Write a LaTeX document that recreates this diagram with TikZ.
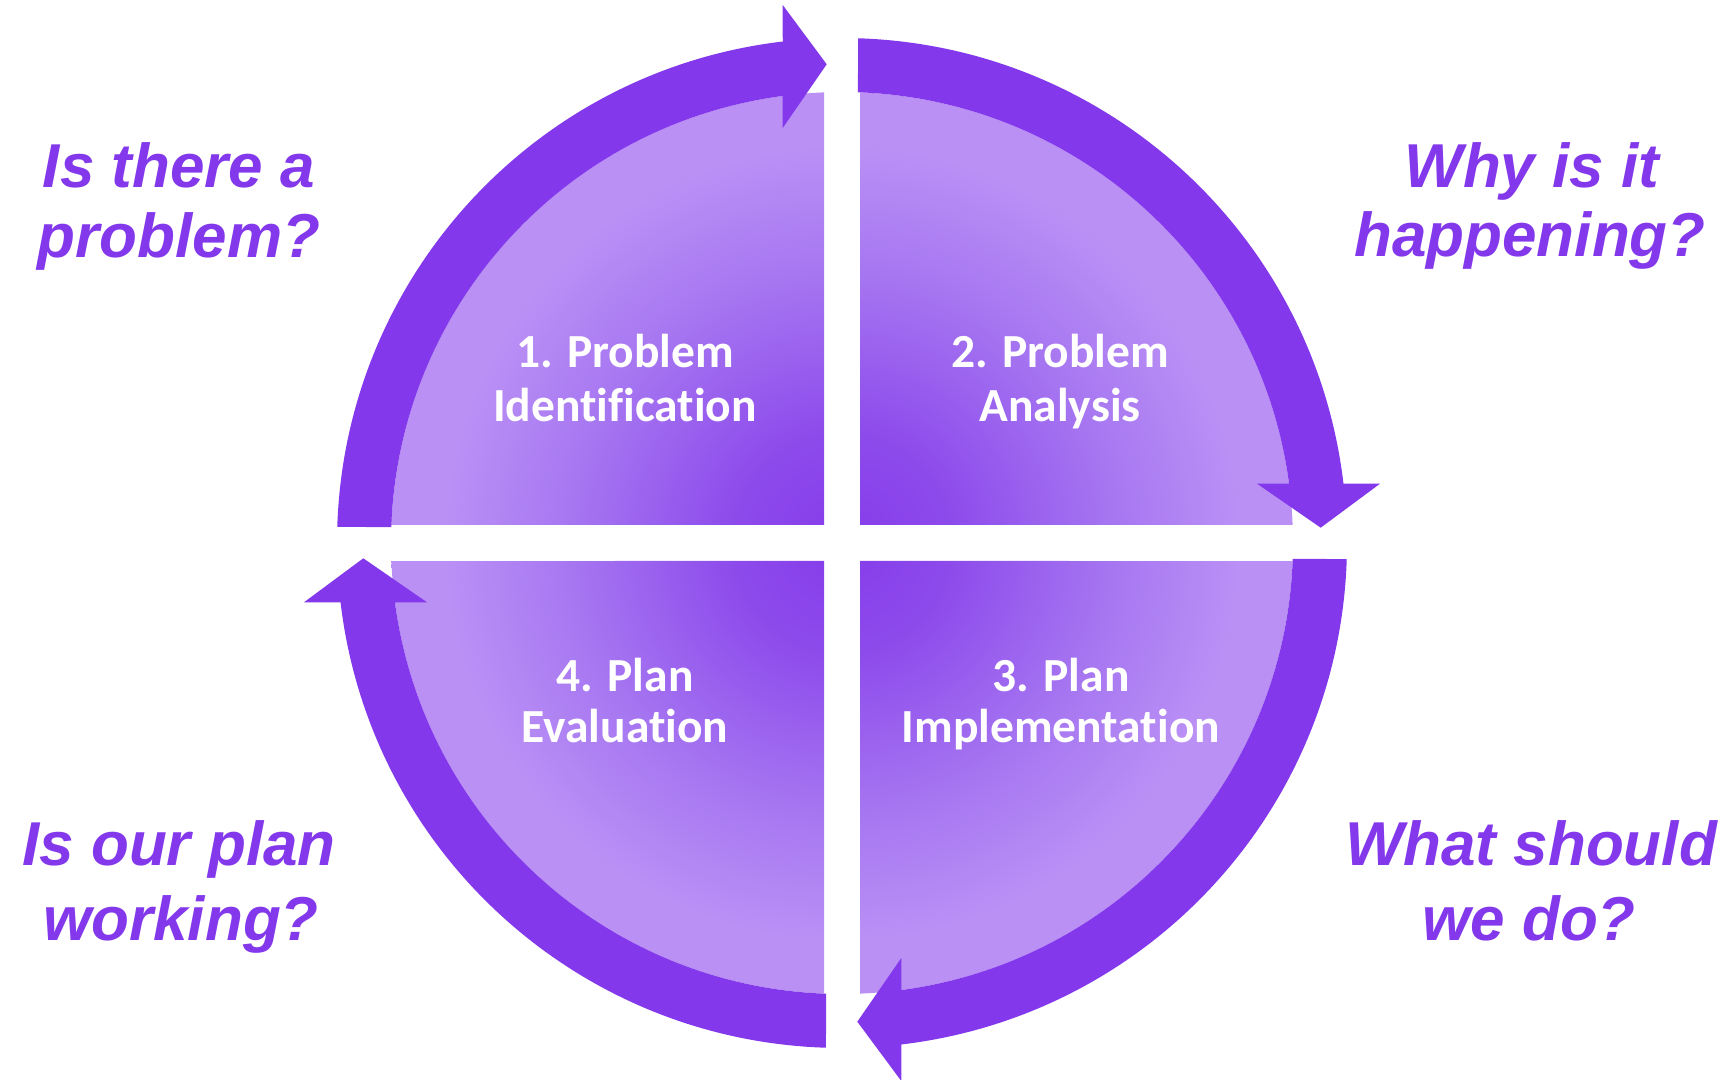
\documentclass[tikz,border=0pt]{standalone}
\usepackage{fontspec}
\newfontfamily\qfont{Liberation Sans}
\newfontfamily\lfont{Carlito}[Ligatures=NoCommon]
\definecolor{ringc}{RGB}{131,57,235}
\definecolor{qdark}{RGB}{134,60,234}
\definecolor{qdk}{RGB}{141,74,235}
\definecolor{qmid}{RGB}{166,118,241}
\definecolor{qlight}{RGB}{186,144,245}
\pgfdeclareradialshading{quadshade}{\pgfpoint{0bp}{0bp}}{color(0bp)=(qdark); color(6bp)=(qdk); color(15bp)=(qmid); color(22bp)=(qlight); color(50bp)=(qlight)}
\begin{document}
\begin{tikzpicture}[x=1pt,y=1pt,
  question/.style={font=\qfont\bfseries\itshape\fontsize{62}{70}\selectfont, text=ringc, anchor=base, inner sep=0pt},
  stage/.style={font=\lfont\bfseries\fontsize{47.5}{53}\selectfont, text=white, anchor=base, inner sep=0pt},
  ringarrow/.style={fill=ringc, draw=none}]
\useasboundingbox (0,0) rectangle (1731,1079);
\coordinate (C) at (842,536);
\begin{scope}[shift={(C)}]
  \begin{scope}
    \clip (18,18) -- (87.71:451pt) arc[start angle=87.71, end angle=2.29, radius=451pt] -- cycle
          (-18,18) -- (92.29:451pt) arc[start angle=92.29, end angle=177.71, radius=451pt] -- cycle
          (-18,-18) -- (182.29:451pt) arc[start angle=182.29, end angle=267.71, radius=451pt] -- cycle
          (18,-18) -- (272.29:451pt) arc[start angle=272.29, end angle=357.71, radius=451pt] -- cycle;
    \shade[shading=quadshade] (0,0) circle (451pt);
  \end{scope}
  \foreach \r in {0,-90,-180,-270} {
    \fill[ringarrow, rotate=\r] (178.18:505pt) arc[start angle=178.18, end angle=96.74, radius=505pt]
      -- (-59.3,538) -- (-15.3,478.7) -- (-59.3,415) -- (97.56:451pt)
      arc[start angle=97.56, end angle=177.97, radius=451pt] -- cycle;
  }
\end{scope}
% stage labels
\node[stage] (l1a) at (625,711) {1. Problem};
\node[stage] (l1b) at (625,657) {Identification};
\node[stage] (l2a) at (1060,711) {2. Problem};
\node[stage] (l2b) at (1060,657) {Analysis};
\node[stage] (l3a) at (1061,387) {3. Plan};
\node[stage] (l3b) at (1061,336) {Implementation};
\node[stage] (l4a) at (625,387) {4. Plan};
\node[stage] (l4b) at (625,336) {Evaluation};
% questions
\node[question] (q1a) at (179,891) {Is there a};
\node[question] (q1b) at (179,821) {problem?};
\node[question] (q2a) at (1532,891) {Why is it};
\node[question] (q2b) at (1530,822) {happening?};
\node[question] (q3a) at (1531,214) {What should};
\node[question] (q3b) at (1529,139) {we do?};
\node[question] (q4a) at (179,214) {Is our plan};
\node[question] (q4b) at (181,139) {working?};
\end{tikzpicture}
\end{document}
